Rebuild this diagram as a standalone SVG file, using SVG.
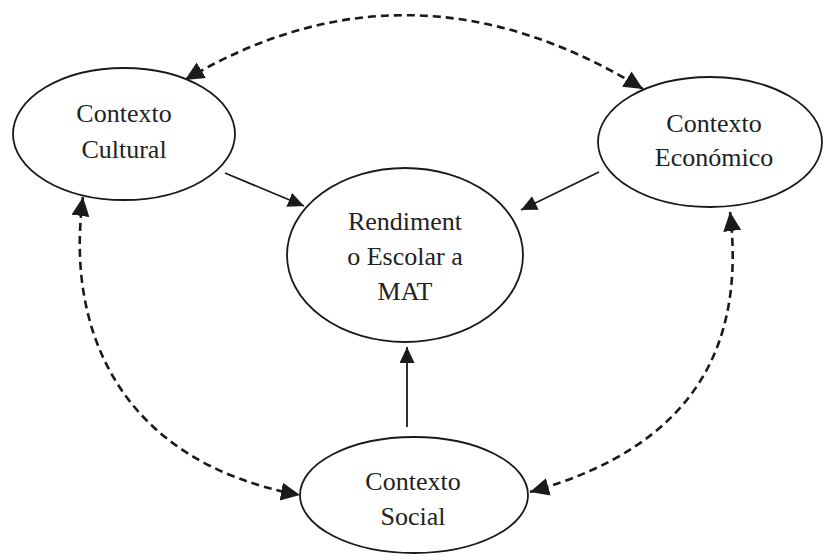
<svg xmlns="http://www.w3.org/2000/svg" width="824" height="560" viewBox="0 0 824 560">
<style>
.node ellipse{fill:#fff;stroke:#1a1a1a;stroke-width:1.8}
.node text{font-family:"Liberation Serif","Times New Roman",serif;font-size:26px;fill:#222;text-anchor:middle}
.solid{fill:none;stroke:#1a1a1a;stroke-width:1.8}
.dashed{fill:none;stroke:#1a1a1a;stroke-width:2.6;stroke-dasharray:8 5}
</style>
<defs>
<marker id="ah" markerUnits="userSpaceOnUse" markerWidth="18" markerHeight="16" refX="16" refY="7.5" orient="auto-start-reverse">
<path d="M0,0 L16,7.5 L0,15 z" fill="#1a1a1a"/>
</marker>
<marker id="ahd" markerUnits="userSpaceOnUse" markerWidth="20" markerHeight="20" refX="19" refY="9" orient="auto-start-reverse">
<path d="M0,0 L19,9 L0,18 z" fill="#1a1a1a"/>
</marker>
</defs>
<rect width="824" height="560" fill="#fff"/>
<g id="connectors">
<path class="dashed" d="M185,80 Q410,-54 643,89" marker-start="url(#ahd)" marker-end="url(#ahd)"/>
<path class="dashed" d="M83,197 C65,330 120,462 300,495" marker-start="url(#ahd)" marker-end="url(#ahd)"/>
<path class="dashed" d="M730,212 C745,340 700,445 530,492" marker-start="url(#ahd)" marker-end="url(#ahd)"/>
<line class="solid" x1="225" y1="173" x2="304" y2="206" marker-end="url(#ah)"/>
<line class="solid" x1="599" y1="172" x2="521" y2="210" marker-end="url(#ah)"/>
<line class="solid" x1="407" y1="427" x2="407" y2="347" marker-end="url(#ah)"/>
</g>
<g id="cultural" class="node">
<ellipse cx="124" cy="134" rx="111" ry="66"/>
<text x="124" y="122">Contexto</text>
<text x="124" y="158">Cultural</text>
</g>
<g id="economico" class="node">
<ellipse cx="710" cy="142" rx="112" ry="65"/>
<text x="714" y="132">Contexto</text>
<text x="714" y="166">Económico</text>
</g>
<g id="rendimento" class="node">
<ellipse cx="405" cy="255" rx="118" ry="87"/>
<text x="405" y="230">Rendiment</text>
<text x="405" y="265">o Escolar a</text>
<text x="405" y="300">MAT</text>
</g>
<g id="social" class="node">
<ellipse cx="414" cy="495" rx="114" ry="58"/>
<text x="413" y="490">Contexto</text>
<text x="413" y="525">Social</text>
</g>
</svg>
